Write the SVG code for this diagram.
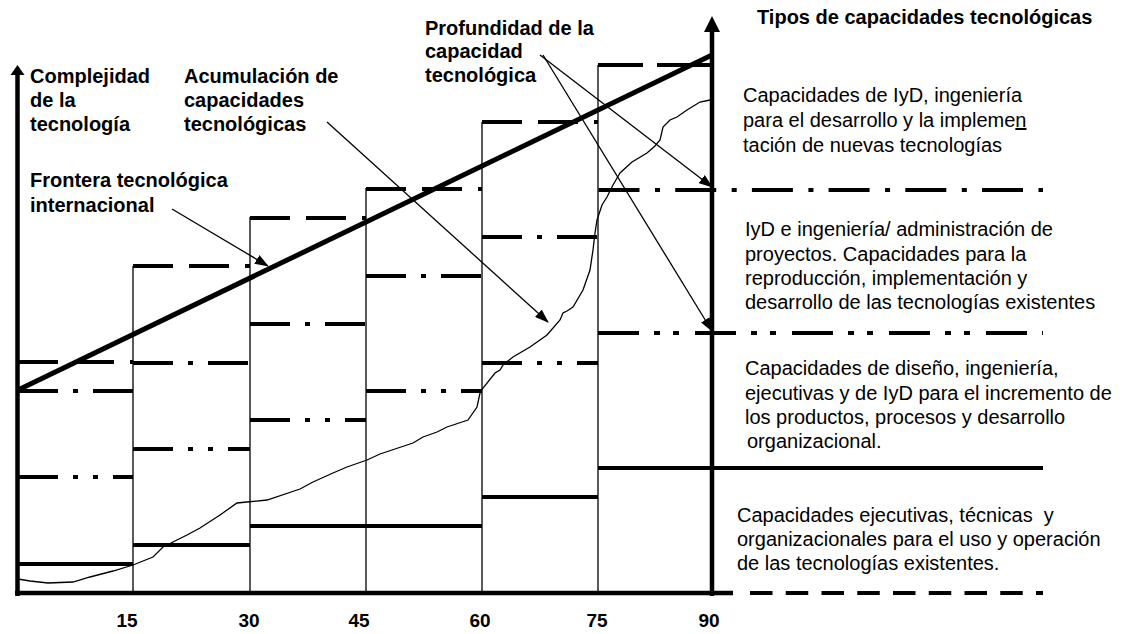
<svg xmlns="http://www.w3.org/2000/svg" width="1125" height="634" viewBox="0 0 1125 634">
<style>
.b{font-family:"Liberation Sans",Arial,sans-serif;font-weight:bold;font-size:20px;fill:#000}
.r{font-family:"Liberation Sans",Arial,sans-serif;font-size:20px;fill:#000}
.n{font-family:"Liberation Sans",Arial,sans-serif;font-weight:bold;font-size:19px;fill:#000;text-anchor:middle}
.col{stroke:#000;stroke-width:1.3;fill:none}
.h{stroke:#000;stroke-width:4;fill:none}
.d1{stroke-dasharray:40 16}
.d2{stroke-dasharray:40 15 5 15}
.d3{stroke-dasharray:40 15 5 15 5 15}
.ax{stroke:#000;stroke-width:4.5;fill:none}
.thin{stroke:#000;stroke-width:1.3;fill:none}
</style>
<defs>
<marker id="ah" markerUnits="userSpaceOnUse" markerWidth="14" markerHeight="10" refX="13" refY="5" orient="auto">
<path d="M0,0 L14,5 L0,10 z" fill="#000"/>
</marker>
</defs>
<g id="columns">
<line class="col" x1="133" y1="266" x2="133" y2="593"/>
<line class="col" x1="250" y1="217" x2="250" y2="593"/>
<line class="col" x1="366" y1="188" x2="366" y2="593"/>
<line class="col" x1="482" y1="122" x2="482" y2="593"/>
<line class="col" x1="598" y1="65" x2="598" y2="593"/>
</g>
<g id="levels">
<line class="h d1" x1="18" y1="362" x2="133" y2="362"/>
<line class="h d2" x1="18" y1="391" x2="133" y2="391"/>
<line class="h d3" x1="18" y1="477" x2="133" y2="477"/>
<line class="h" x1="18" y1="564" x2="133" y2="564"/>
<line class="h d1" x1="133" y1="266" x2="250" y2="266"/>
<line class="h d2" x1="133" y1="363" x2="250" y2="363"/>
<line class="h d3" x1="133" y1="449" x2="250" y2="449"/>
<line class="h" x1="133" y1="545" x2="250" y2="545"/>
<line class="h d1" x1="250" y1="218" x2="366" y2="218"/>
<line class="h d2" x1="250" y1="324" x2="366" y2="324"/>
<line class="h d3" x1="250" y1="420" x2="366" y2="420"/>
<line class="h" x1="250" y1="526" x2="482" y2="526"/>
<line class="h d1" x1="366" y1="189" x2="482" y2="189"/>
<line class="h d2" x1="366" y1="276" x2="482" y2="276"/>
<line class="h d3" x1="366" y1="391" x2="482" y2="391"/>
<line class="h d1" x1="482" y1="122" x2="598" y2="122"/>
<line class="h d2" x1="482" y1="237" x2="598" y2="237"/>
<line class="h d3" x1="482" y1="363" x2="598" y2="363"/>
<line class="h" x1="482" y1="497" x2="598" y2="497"/>
<line class="h" x1="598" y1="65" x2="712" y2="65" stroke-dasharray="45 14 60"/>
<line class="h" x1="598.5" y1="190" x2="1043" y2="190" stroke-dasharray="41 15.5 5 15.2"/>
<line class="h" x1="598" y1="333" x2="1043" y2="333" stroke-dasharray="41 15 6 13 6 16"/>
<line class="h" x1="598" y1="468" x2="1043" y2="468"/>
<line class="h" x1="750" y1="593" x2="1043" y2="593" stroke-dasharray="22.5 13.25"/>
</g>
<g id="axes">
<line class="ax" x1="17.5" y1="596" x2="17.5" y2="72"/>
<path d="M17.5,65 L24.5,75 L10.5,75 z" fill="#000"/>
<line class="ax" x1="15" y1="593" x2="733" y2="593"/>
<line class="ax" x1="712" y1="596" x2="712" y2="30"/>
<path d="M712,16 L720,32 L704,32 z" fill="#000"/>
</g>
<g id="frontier">
<line x1="18" y1="390" x2="712" y2="55" stroke="#000" stroke-width="5"/>
</g>
<g id="accumulation-curve">
<polyline class="thin" points="18,579 30,581 48,583 73,582 90,577 113,571 133,565 153,557 163,547 187,535 200,528 220,515 237,503 247,502 267,500 300,489 313,482 333,473 347,467 367,460 380,454 413,443 423,437 437,432 447,427 468,420 477,407 480,393 483,388 495,373 500,370 503,365 513,357 530,347 547,335 560,320 563,313 567,311 573,307 583,290 590,270 593,250 595,233 597,220 602,205 607,197 613,185 620,173 632,162 647,153 655,146 660,140 663,127 670,120 677,117 687,110 700,102 710,100"/>
</g>
<g id="connectors">
<line class="thin" x1="172" y1="209" x2="268" y2="266" marker-end="url(#ah)"/>
<line class="thin" x1="327" y1="122" x2="548" y2="322" marker-end="url(#ah)"/>
<line class="thin" x1="540" y1="55" x2="712" y2="187" marker-end="url(#ah)"/>
<line class="thin" x1="543" y1="55" x2="712" y2="331" marker-end="url(#ah)"/>
</g>
<g id="label-complejidad">
<text class="b" x="30" y="83">Complejidad</text>
<text class="b" x="30" y="107">de la</text>
<text class="b" x="30" y="131">tecnología</text>
</g>
<g id="label-acumulacion">
<text class="b" x="184" y="83">Acumulación de</text>
<text class="b" x="184" y="107">capacidades</text>
<text class="b" x="184" y="131">tecnológicas</text>
</g>
<g id="label-frontera">
<text class="b" x="30" y="187">Frontera tecnológica</text>
<text class="b" x="30" y="212">internacional</text>
</g>
<g id="label-profundidad">
<text class="b" x="425" y="35">Profundidad de la</text>
<text class="b" x="425" y="58">capacidad</text>
<text class="b" x="425" y="82">tecnológica</text>
</g>
<g id="label-tipos">
<text class="b" x="757" y="24">Tipos de capacidades tecnológicas</text>
</g>
<g id="tipo-1">
<text class="r" x="743" y="102">Capacidades de IyD, ingeniería</text>
<text class="r" x="743" y="127">para el desarrollo y la impleme<tspan text-decoration="underline">n</tspan></text>
<text class="r" x="743" y="152">tación de nuevas tecnologías</text>
</g>
<g id="tipo-2">
<text class="r" x="745" y="236">IyD e ingeniería/ administración de</text>
<text class="r" x="745" y="261">proyectos. Capacidades para la</text>
<text class="r" x="745" y="285">reproducción, implementación y</text>
<text class="r" x="745" y="309">desarrollo de las tecnologías existentes</text>
</g>
<g id="tipo-3">
<text class="r" x="745" y="375">Capacidades de diseño, ingeniería,</text>
<text class="r" x="745" y="400">ejecutivas y de IyD para el incremento de</text>
<text class="r" x="745" y="424">los productos, procesos y desarrollo</text>
<text class="r" x="747" y="448">organizacional.</text>
</g>
<g id="tipo-4">
<text class="r" x="737" y="522" xml:space="preserve">Capacidades ejecutivas, técnicas  y</text>
<text class="r" x="737" y="546">organizacionales para el uso y operación</text>
<text class="r" x="737" y="570">de las tecnologías existentes.</text>
</g>
<g id="x-labels">
<text class="n" x="127" y="627">15</text>
<text class="n" x="249" y="627">30</text>
<text class="n" x="359" y="627">45</text>
<text class="n" x="480" y="627">60</text>
<text class="n" x="597" y="627">75</text>
<text class="n" x="709" y="627">90</text>
</g>
</svg>
